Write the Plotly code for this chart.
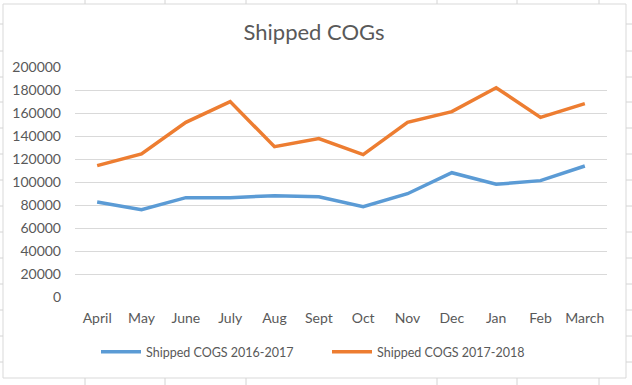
import plotly.graph_objects as go

months = ["April", "May", "June", "July", "Aug", "Sept", "Oct", "Nov", "Dec", "Jan", "Feb", "March"]
cogs_2016_2017 = [82600, 75900, 86400, 86400, 88100, 87200, 78500, 89800, 108100, 98000, 101200, 113900]
cogs_2017_2018 = [114200, 124400, 151900, 169900, 130700, 137700, 123800, 151900, 161200, 182000, 156200, 168100]
y_ticks = [0, 20000, 40000, 60000, 80000, 100000, 120000, 140000, 160000, 180000, 200000]

FONT = "Lato"
TXT = "#595959"
W, H = 632, 385
L, R, T, B = 75, 607, 67, 297  # plot area in pixels


def px(xp):
    return (xp - L) / (R - L)


def py(yp):
    return (B - yp) / (B - T)


def line(x0, y0, x1, y1, color="#D4D4D4"):
    return dict(type="line", xref="paper", yref="paper", x0=px(x0), y0=py(y0), x1=px(x1), y1=py(y1),
                line=dict(color=color, width=1), layer="below")


shapes = [dict(type="rect", xref="paper", yref="paper", x0=px(3), x1=px(626), y0=py(378), y1=py(4),
               line=dict(color="#D9D9D9", width=1), layer="below")]
for cx in [85, 165, 246, 437, 517, 599]:
    shapes.append(line(cx, 0, cx, 4))
    shapes.append(line(cx, 378, cx, 385))
for ry in [24, 51, 77, 102, 128, 154, 180, 206, 232, 258, 284, 310, 336, 362]:
    shapes.append(line(0, ry, 3, ry))
    shapes.append(line(626, ry, 632, ry))

fig = go.Figure()
fig.add_trace(go.Scatter(x=months, y=cogs_2016_2017, mode="lines", name="Shipped COGS 2016-2017",
                         line=dict(color="#5B9BD5", width=3.5)))
fig.add_trace(go.Scatter(x=months, y=cogs_2017_2018, mode="lines", name="Shipped COGS 2017-2018",
                         line=dict(color="#ED7D31", width=3.5)))

fig.update_layout(
    width=W, height=H,
    margin=dict(l=L, r=W - R, t=T, b=H - B),
    paper_bgcolor="white", plot_bgcolor="white",
    font=dict(family=FONT, size=14, color=TXT),
    title=dict(text="Shipped COGs", x=314 / W, xref="container", y=1 - 32 / H, yref="container",
               xanchor="center", yanchor="middle", font=dict(family=FONT, size=22, color=TXT)),
    showlegend=True,
    legend=dict(orientation="h", xref="container", yref="container", x=96 / W, y=1 - 352 / H,
                xanchor="left", yanchor="middle", font=dict(family=FONT, size=12.5, color=TXT),
                itemwidth=40, traceorder="normal", entrywidth=176, bgcolor="rgba(0,0,0,0)"),
    xaxis=dict(type="category", range=[-0.5, 11.5], showgrid=False, showline=False, ticks="",
               tickfont=dict(family=FONT, size=14, color=TXT), ticklabelstandoff=11, fixedrange=True),
    yaxis=dict(range=[0, 200000], tickvals=y_ticks, ticktext=[str(v) for v in y_ticks],
               showgrid=True, gridcolor="#D9D9D9", gridwidth=1, zeroline=False, showline=False, ticks="",
               tickfont=dict(family=FONT, size=14, color=TXT), ticklabelstandoff=13, fixedrange=True),
    shapes=shapes,
)

fig.write_html("out.html", config={"displayModeBar": False},
               post_script="document.body.style.margin='0';")
